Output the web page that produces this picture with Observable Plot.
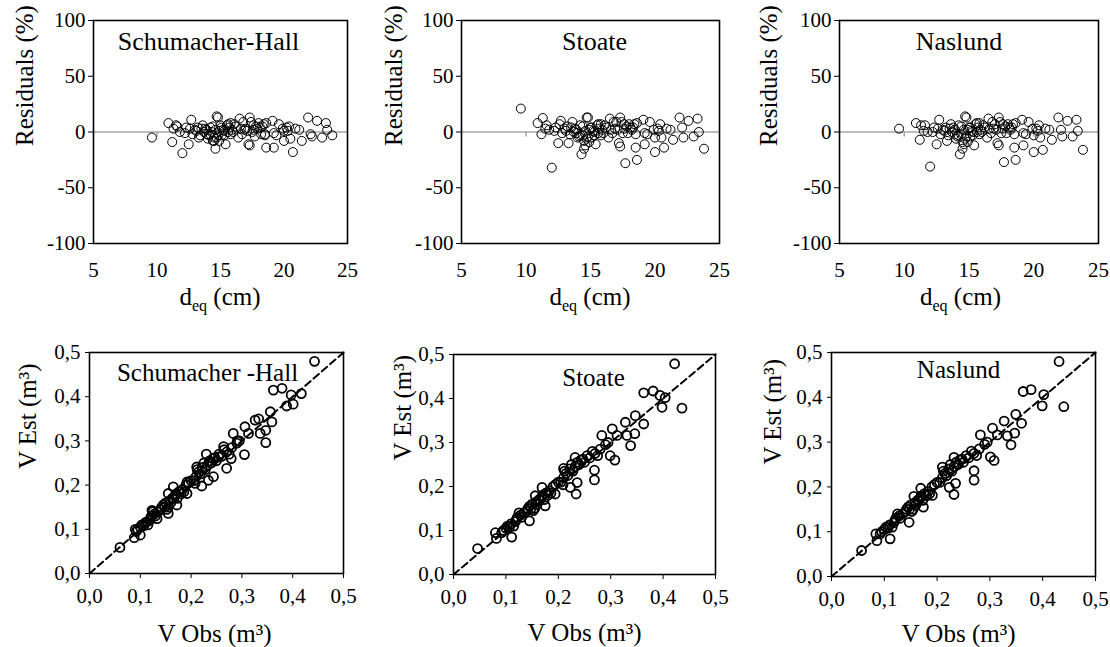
<!DOCTYPE html>
<html><head><meta charset="utf-8">
<script src="https://cdn.jsdelivr.net/npm/d3@7"></script>
<script src="https://cdn.jsdelivr.net/npm/@observablehq/plot@0.6"></script>
<style>
html,body{margin:0;padding:0;background:#fff;}
#wrap{position:relative;width:1110px;height:647px;overflow:hidden;background:#fff;}
#wrap svg{position:absolute;overflow:visible;}
#wrap svg, #wrap svg text, #wrap svg tspan, #wrap svg g{font-family:"Liberation Serif","Times New Roman",serif !important;}
</style></head><body><div id="wrap"></div>
<script>
// ---------- data ----------
const topTitles = ["Schumacher-Hall", "Stoate", "Naslund"];
const bottomTitles = ["Schumacher -Hall", "Stoate", "Naslund"];
const residualTicks = [-100, -50, 0, 50, 100];
const dTicks = [5, 10, 15, 20, 25];
const volTicks = [0, 0.1, 0.2, 0.3, 0.4, 0.5];
const diagonal = [0, 0.5];

const dEq = [9.6,10.9,11.2,11.3,11.5,11.6,12.0,11.8,12.3,12.5,12.6,12.7,12.8,13.0,13.2,13.3,13.4,13.6,13.7,13.8,
  13.9,14.0,14.1,14.2,14.3,14.4,14.5,14.5,14.6,14.6,14.7,14.8,14.8,14.9,15.0,15.1,15.2,15.3,15.4,15.5,
  15.6,15.7,15.8,15.9,16.0,16.2,16.4,16.5,16.6,16.8,16.9,17.0,17.2,17.3,17.3,17.4,17.5,17.6,17.7,17.8,
  17.9,18.1,18.2,18.4,18.5,18.6,18.6,18.5,19.1,19.2,19.2,19.6,19.9,20.0,20.0,20.3,20.4,20.5,20.7,20.9,
  21.2,21.4,21.9,22.1,22.2,22.6,23.0,23.3,23.4,23.8,13.1,13.5,13.9,14.2,14.4,14.7,14.9,15.1,15.3,15.6,
  15.8,16.1,16.7,17.1,17.6,18.0,18.3,19.4,20.2,12.2];
const resSH = [-5,8,-9,3,6,5,-19,0,4,-11,3,11,-2,2,4,-5,-3,6,0,3,
  2,-6,-3,4,0,-8,-8,-5,-15,2,14,13,-3,1,6,-3,2,-3,-11,6,
  7,4,8,2,0,5,-5,12,3,9,2,3,-11,13,-12,9,0,6,-4,5,
  3,4,-2,7,-3,-14,8,-2,10,-14,-1,7,3,-8,1,1,5,-6,-18,3,
  2,-8,13,-2,-4,10,-5,8,2,-3,1,3,-2,-2,5,-5,-8,4,1,0,
  -2,7,-2,1,2,8,5,-3,4,-1];
const resST = [21,8,-2,12.5,3,6,-32,2,4,-10,7,10,-1,3,5,-10,-2,9,0,3,
  2,-5,-4,6,-20,-3,-15,-8,-12,1,13,13,-4,2,4,-5,1,-3,-11,6,
  7,3,7,2,-1,4,-5,12,2,9,3,9,-10,13,-13,9,-1,7,-28,5,
  -1,4,2,7,-2,-25,8,-14,11,-11,-1,9,2,-5,-18,1,7,-5,-14,3,
  2,-7,13,4,-5,10,-4,12,0,-15,1,4,-1,-3,5,-6,-9,4,0,-1,
  -3,6,-1,2,3,7,4,-2,3,1];
const resNA = [3,8,-7,6,1,6,-31,0,4,-11,3,11,-2,2,4,-8,-3,7,0,4,
  2,-6,-4,6,-20,-2,-15,-9,-11,2,14,13,-4,2,4,-4,1,-3,-12,7,
  8,4,8,2,0,4,-5,12,3,9,3,7,-10,13,-12,9,-1,7,-27,5,
  -1,4,2,7,-2,-25,8,-14,11,-12,-1,9,3,-3,-18,1,6,-5,-16,3,
  2,-7,13,2,-4,10,-4,11,1,-16,1,3,-2,-3,5,-6,-9,4,0,0,
  -2,6,-1,2,3,7,4,-2,3,0];

// dense band of points along the 1:1 line (shared look in all three lower panels)
const clusterObs = [0.092,0.095,0.100,0.103,0.107,0.110,0.115,0.118,0.120,0.122,0.125,0.128,0.130,0.135,0.140,0.142,0.145,0.148,0.150,0.152,
  0.155,0.158,0.160,0.163,0.165,0.168,0.170,0.173,0.176,0.180,0.183,0.186,0.190,0.195,0.200,0.205,0.210,0.212,0.215,0.218,
  0.222,0.225,0.228,0.232,0.236,0.240,0.243,0.247,0.250,0.255,0.260,0.265,0.270,0.275,0.280,0.290,0.295];
const clusterEst = [0.095,0.100,0.105,0.110,0.108,0.115,0.110,0.120,0.125,0.130,0.140,0.135,0.130,0.140,0.145,0.150,0.155,0.150,0.160,0.145,
  0.150,0.165,0.160,0.170,0.170,0.175,0.180,0.170,0.185,0.180,0.190,0.185,0.200,0.205,0.210,0.210,0.220,0.235,0.230,0.225,
  0.240,0.250,0.235,0.245,0.255,0.250,0.260,0.262,0.255,0.270,0.265,0.280,0.275,0.270,0.285,0.295,0.300];

const obsSH = [0.060,0.088,0.090,0.100,0.113,0.123,0.133,0.155,0.155,0.165,0.172,0.192,0.192,0.208,0.211,0.221,0.230,0.234,0.244,0.254,
  0.264,0.270,0.279,0.283,0.291,0.305,0.306,0.313,0.326,0.333,0.336,0.347,0.347,0.356,0.359,0.362,0.379,0.388,0.397,0.401,0.417,0.443];
const estSH = [0.059,0.081,0.100,0.087,0.117,0.143,0.124,0.181,0.136,0.196,0.155,0.207,0.181,0.204,0.241,0.198,0.270,0.211,0.219,0.264,
  0.287,0.238,0.260,0.317,0.300,0.269,0.332,0.317,0.347,0.350,0.317,0.296,0.324,0.366,0.343,0.415,0.419,0.379,0.404,0.383,0.407,0.480];
const obsST = [0.046,0.082,0.080,0.111,0.145,0.156,0.169,0.175,0.194,0.209,0.210,0.223,0.232,0.234,0.236,0.269,0.269,0.283,0.299,0.303,
  0.308,0.312,0.328,0.331,0.338,0.346,0.347,0.363,0.363,0.381,0.394,0.398,0.404,0.422,0.436];
const estST = [0.059,0.082,0.095,0.085,0.122,0.179,0.198,0.156,0.183,0.204,0.241,0.198,0.266,0.183,0.209,0.237,0.215,0.316,0.270,0.331,
  0.260,0.316,0.346,0.316,0.293,0.320,0.361,0.342,0.413,0.417,0.407,0.380,0.402,0.479,0.378];
const obsNA = [0.057,0.086,0.084,0.111,0.147,0.156,0.169,0.174,0.191,0.210,0.223,0.232,0.232,0.235,0.270,0.270,0.282,0.301,0.305,0.308,
  0.314,0.327,0.333,0.340,0.347,0.349,0.360,0.363,0.378,0.399,0.402,0.431,0.440];
const estNA = [0.058,0.080,0.095,0.084,0.121,0.179,0.197,0.155,0.181,0.244,0.199,0.266,0.183,0.208,0.236,0.215,0.316,0.267,0.331,0.259,
  0.316,0.347,0.314,0.294,0.320,0.362,0.342,0.413,0.417,0.381,0.406,0.480,0.379];

// ---------- layout ----------
const FONT = "Liberation Serif, Times New Roman, serif";
const wrap = document.getElementById("wrap");

const topCfg = [
  {left: 0,   ml: 93, mr: 23, tdx: -12, ldx: -69, xdx: 0,  res: resSH},
  {left: 370, ml: 91, mr: 21, tdx: 4,   ldx: -68, xdx: 0,  res: resST},
  {left: 740, ml: 99, mr: 12, tdx: -10, ldx: -71, xdx: -8, res: resNA}
];
const botCfg = [
  {left: 0,   ml: 89, mr: 27, mt: 32, mb: 74, tdx: -9, tdy: 10.5, ldx: -62, ldy: 6,  xdx: -2, xdy: 60, obs: obsSH, est: estSH},
  {left: 370, ml: 83, mr: 25, mt: 34, mb: 73, tdx: 9,  tdy: 14,   ldx: -51, ldy: -4, xdx: 0,  xdy: 58, obs: obsST, est: estST},
  {left: 740, ml: 91, mr: 15, mt: 32, mb: 71, tdx: -5, tdy: 7.5,  ldx: -59, ldy: 0,  xdx: -5, xdy: 57, obs: obsNA, est: estNA}
];

topCfg.forEach((c, k) => {
  const data = dEq.map((d, i) => ({d, r: c.res[i]}));
  const W = 370, H = 320;
  const svg = Plot.plot({
    width: W, height: H,
    marginLeft: c.ml, marginRight: c.mr, marginTop: 20, marginBottom: 77,
    style: {fontFamily: FONT, fontSize: "21px", color: "#000", background: "transparent", overflow: "visible"},
    x: {domain: [5, 25], ticks: dTicks, tickFormat: d => String(d), tickSize: 0, tickPadding: 19, label: null},
    y: {domain: [-100, 100], ticks: residualTicks, tickFormat: d => String(d), tickSize: 5, tickPadding: 3, label: null},
    marks: [
      Plot.ruleY([0], {stroke: "#a6a6a6", strokeWidth: 1.5}),
      Plot.ruleX([10, 15, 20], {y1: 0, y2: 0, insetBottom: -5, stroke: "#a6a6a6", strokeWidth: 1.5}),
      Plot.dot(data, {x: "d", y: "r", r: 4.5, stroke: "#000", strokeWidth: 1, fill: "none"}),
      Plot.frame({stroke: "#000", strokeWidth: 1.6}),
      Plot.text([topTitles[k]], {text: d => d, frameAnchor: "top", lineAnchor: "top", dx: c.tdx, dy: 11.5, fontSize: 26, fill: "#000"}),
      Plot.text(["Residuals (%)"], {text: d => d, frameAnchor: "left", rotate: -90, dx: c.ldx, dy: 14, fontSize: 25, fill: "#000"})
    ]
  });
  svg.style.left = c.left + "px";
  svg.style.top = "0px";
  const cx = c.ml + (W - c.ml - c.mr) / 2 + c.xdx;
  const t = d3.select(svg).append("text")
    .attr("x", cx).attr("y", 305).attr("text-anchor", "middle")
    .attr("font-size", 25).attr("fill", "#000");
  t.append("tspan").text("d");
  t.append("tspan").attr("font-size", 16).attr("dy", 6).text("eq");
  t.append("tspan").attr("dy", -6).text(" (cm)");
  wrap.appendChild(svg);
});

botCfg.forEach((c, k) => {
  const data = clusterObs.map((o, i) => ({o, e: clusterEst[i]}))
    .concat(c.obs.map((o, i) => ({o, e: c.est[i]})));
  const W = 370, H = 327;
  const fmt = d => d.toFixed(1).replace(".", ",");
  const svg = Plot.plot({
    width: W, height: H,
    marginLeft: c.ml, marginRight: c.mr, marginTop: c.mt, marginBottom: c.mb,
    style: {fontFamily: FONT, fontSize: "21px", color: "#000", background: "transparent", overflow: "visible"},
    x: {domain: [0, 0.5], ticks: volTicks, tickFormat: fmt, tickSize: 5, tickPadding: 10, label: null},
    y: {domain: [0, 0.5], ticks: volTicks, tickFormat: fmt, tickSize: 4, tickPadding: 5, label: null},
    marks: [
      Plot.line(diagonal, {x: d => d, y: d => d, stroke: "#000", strokeWidth: 2, strokeDasharray: "7,4"}),
      Plot.dot(data, {x: "o", y: "e", r: 4.5, stroke: "#000", strokeWidth: 1.8, fill: "none"}),
      Plot.frame({stroke: "#000", strokeWidth: 1.6}),
      Plot.text([bottomTitles[k]], {text: d => d, frameAnchor: "top", lineAnchor: "top", dx: c.tdx, dy: c.tdy, fontSize: 25, fill: "#000"}),
      Plot.text(["V Est (m³)"], {text: d => d, frameAnchor: "left", rotate: -90, dx: c.ldx, dy: c.ldy, fontSize: 25, fill: "#000"}),
      Plot.text(["V Obs (m³)"], {text: d => d, frameAnchor: "bottom", lineAnchor: "middle", dx: c.xdx, dy: c.xdy, fontSize: 25, fill: "#000"})
    ]
  });
  svg.style.left = c.left + "px";
  svg.style.top = "320px";
  wrap.appendChild(svg);
});
</script></body></html>
